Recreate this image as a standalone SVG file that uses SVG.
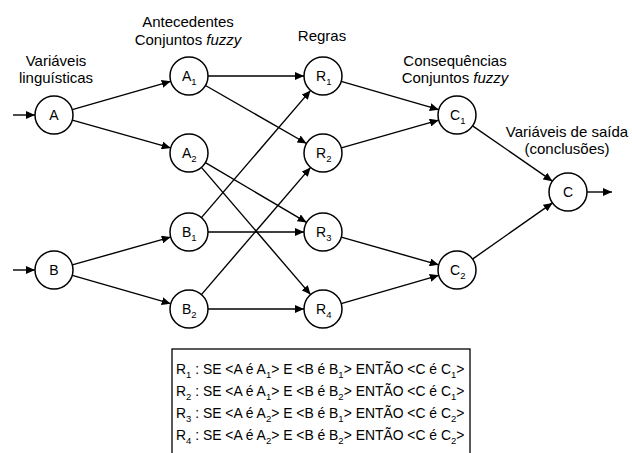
<svg xmlns="http://www.w3.org/2000/svg" width="632" height="453" viewBox="0 0 632 453">
<defs>
<marker id="arr" markerUnits="userSpaceOnUse" markerWidth="10" markerHeight="8" refX="9" refY="4" orient="auto">
<path d="M0,0 L9,4 L0,8 Z" fill="#000"/>
</marker>
<style>
text{font-family:"Liberation Sans",Arial,sans-serif;fill:#000}
.lbl{font-size:15px;text-anchor:middle}
.nl{font-size:14px}
.sub{font-size:9.5px}
.rule{font-size:13.9px}
circle{fill:#fff;stroke:#000;stroke-width:1.5}
#edges line{stroke:#000;stroke-width:1.4;marker-end:url(#arr)}
</style>
</defs>
<rect width="632" height="453" fill="#fff"/>
<g id="labels">
<text class="lbl" x="56" y="66">Variáveis</text>
<text class="lbl" x="56" y="83">linguísticas</text>
<text class="lbl" x="188" y="27">Antecedentes</text>
<text class="lbl" x="188" y="45">Conjuntos <tspan font-style="italic">fuzzy</tspan></text>
<text class="lbl" x="322" y="41">Regras</text>
<text class="lbl" x="455" y="66">Consequências</text>
<text class="lbl" x="455" y="83">Conjuntos <tspan font-style="italic">fuzzy</tspan></text>
<text class="lbl" x="567" y="137">Variáveis de saída</text>
<text class="lbl" x="567" y="154">(conclusões)</text>
</g>
<g id="edges">
<line x1="13" y1="115" x2="35" y2="115"/>
<line x1="13" y1="270" x2="35" y2="270"/>
<line x1="587" y1="192" x2="612" y2="192"/>
<line x1="72.3" y1="109.7" x2="170.7" y2="81.3"/>
<line x1="72.3" y1="120.1" x2="170.7" y2="147.9"/>
<line x1="72.3" y1="264.9" x2="170.7" y2="237.1"/>
<line x1="72.3" y1="275.3" x2="170.7" y2="303.7"/>
<line x1="208" y1="76" x2="304" y2="76"/>
<line x1="205.5" y1="85.5" x2="306.5" y2="143.5"/>
<line x1="205.4" y1="162.6" x2="306.6" y2="222.4"/>
<line x1="201.4" y1="167.4" x2="310.6" y2="294.6"/>
<line x1="201.4" y1="217.6" x2="310.6" y2="90.4"/>
<line x1="208" y1="232" x2="304" y2="232"/>
<line x1="201.4" y1="294.6" x2="310.6" y2="167.4"/>
<line x1="208" y1="309" x2="304" y2="309"/>
<line x1="341.2" y1="81.3" x2="438.8" y2="109.7"/>
<line x1="341.3" y1="147.8" x2="438.7" y2="120.2"/>
<line x1="341.3" y1="237.2" x2="438.7" y2="264.8"/>
<line x1="341.2" y1="303.7" x2="438.8" y2="275.3"/>
<line x1="472.6" y1="125.8" x2="552.4" y2="181.2"/>
<line x1="472.5" y1="259.1" x2="552.5" y2="202.9"/>
</g>
<g id="nA"><circle cx="54" cy="115" r="19"/><text class="nl" x="49.3" y="120">A</text></g>
<g id="nB"><circle cx="54" cy="270" r="19"/><text class="nl" x="49.3" y="275">B</text></g>
<g id="nA1"><circle cx="189" cy="76" r="19"/><text class="nl" x="182" y="81">A<tspan class="sub" dy="4">1</tspan></text></g>
<g id="nA2"><circle cx="189" cy="153" r="19"/><text class="nl" x="182" y="158">A<tspan class="sub" dy="4">2</tspan></text></g>
<g id="nB1"><circle cx="189" cy="232" r="19"/><text class="nl" x="182" y="237">B<tspan class="sub" dy="4">1</tspan></text></g>
<g id="nB2"><circle cx="189" cy="309" r="19"/><text class="nl" x="182" y="314">B<tspan class="sub" dy="4">2</tspan></text></g>
<g id="nR1"><circle cx="323" cy="76" r="19"/><text class="nl" x="316" y="81">R<tspan class="sub" dy="4">1</tspan></text></g>
<g id="nR2"><circle cx="323" cy="153" r="19"/><text class="nl" x="316" y="158">R<tspan class="sub" dy="4">2</tspan></text></g>
<g id="nR3"><circle cx="323" cy="232" r="19"/><text class="nl" x="316" y="237">R<tspan class="sub" dy="4">3</tspan></text></g>
<g id="nR4"><circle cx="323" cy="309" r="19"/><text class="nl" x="316" y="314">R<tspan class="sub" dy="4">4</tspan></text></g>
<g id="nC1"><circle cx="457" cy="115" r="19"/><text class="nl" x="450" y="120">C<tspan class="sub" dy="4">1</tspan></text></g>
<g id="nC2"><circle cx="457" cy="270" r="19"/><text class="nl" x="450" y="275">C<tspan class="sub" dy="4">2</tspan></text></g>
<g id="nC"><circle cx="568" cy="192" r="19"/><text class="nl" x="563" y="197">C</text></g>
<g id="rules">
<rect x="172" y="349" width="298" height="110" fill="none" stroke="#000" stroke-width="1.3"/>
<text class="rule" x="176" y="374">R<tspan class="sub" dy="4">1</tspan><tspan dy="-4"> : SE &lt;A é A</tspan><tspan class="sub" dy="4">1</tspan><tspan dy="-4">&gt; E &lt;B é B</tspan><tspan class="sub" dy="4">1</tspan><tspan dy="-4">&gt; ENTÃO &lt;C é C</tspan><tspan class="sub" dy="4">1</tspan><tspan dy="-4">&gt;</tspan></text>
<text class="rule" x="176" y="396">R<tspan class="sub" dy="4">2</tspan><tspan dy="-4"> : SE &lt;A é A</tspan><tspan class="sub" dy="4">1</tspan><tspan dy="-4">&gt; E &lt;B é B</tspan><tspan class="sub" dy="4">2</tspan><tspan dy="-4">&gt; ENTÃO &lt;C é C</tspan><tspan class="sub" dy="4">1</tspan><tspan dy="-4">&gt;</tspan></text>
<text class="rule" x="176" y="418">R<tspan class="sub" dy="4">3</tspan><tspan dy="-4"> : SE &lt;A é A</tspan><tspan class="sub" dy="4">2</tspan><tspan dy="-4">&gt; E &lt;B é B</tspan><tspan class="sub" dy="4">1</tspan><tspan dy="-4">&gt; ENTÃO &lt;C é C</tspan><tspan class="sub" dy="4">2</tspan><tspan dy="-4">&gt;</tspan></text>
<text class="rule" x="176" y="440">R<tspan class="sub" dy="4">4</tspan><tspan dy="-4"> : SE &lt;A é A</tspan><tspan class="sub" dy="4">2</tspan><tspan dy="-4">&gt; E &lt;B é B</tspan><tspan class="sub" dy="4">2</tspan><tspan dy="-4">&gt; ENTÃO &lt;C é C</tspan><tspan class="sub" dy="4">2</tspan><tspan dy="-4">&gt;</tspan></text>
</g>
</svg>
